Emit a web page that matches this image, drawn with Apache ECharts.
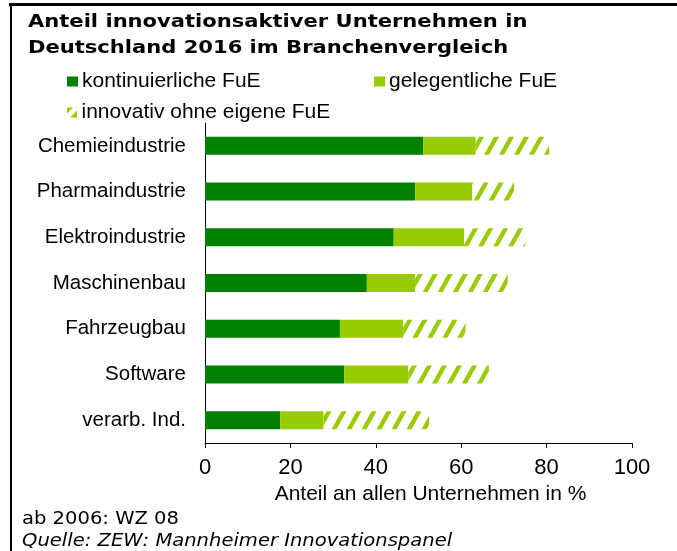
<!DOCTYPE html>
<html>
<head>
<meta charset="utf-8">
<script src="https://cdn.jsdelivr.net/npm/echarts@6/dist/echarts.min.js"></script>
<style>
  html, body { margin: 0; padding: 0; background: #fff; }
  #chart { width: 677px; height: 551px; }
</style>
</head>
<body>
<div id="chart"></div>
<script>
// Branchen
let categories = ['Chemieindustrie', 'Pharmaindustrie', 'Elektroindustrie', 'Maschinenbau',
    'Fahrzeugbau', 'Software', 'verarb. Ind.'];
// Anteile in %
let kontinuierlich = [51.1, 49.2, 44.2, 37.9, 31.6, 32.6, 17.6];
let gelegentlich = [12.3, 13.4, 16.5, 11.3, 14.8, 15.0, 10.2];
let ohneFuE = [17.2, 9.8, 14.3, 21.7, 14.6, 18.9, 24.7];
let seriesNames = ['kontinuierliche FuE', 'gelegentliche FuE', 'innovativ ohne eigene FuE'];
let xTicks = [0, 20, 40, 60, 80, 100];

let darkGreen = '#008000';
let lightGreen = '#99CC00';

// Schraffur fuer "innovativ ohne eigene FuE"
function makeHatch() {
    let w = 15, h = 27;
    let c = document.createElement('canvas');
    c.width = w;
    c.height = h;
    let ctx = c.getContext('2d');
    ctx.fillStyle = '#fff';
    ctx.fillRect(0, 0, w, h);
    ctx.fillStyle = lightGreen;
    for (let k = -1; k <= 1; k++) {
        let x0 = k * w;
        ctx.beginPath();
        ctx.moveTo(x0, h);
        ctx.lineTo(x0 + w, 0);
        ctx.lineTo(x0 + w + 5, 0);
        ctx.lineTo(x0 + 5, h);
        ctx.closePath();
        ctx.fill();
    }
    return c;
}
let hatch = { image: makeHatch(), repeat: 'repeat' };

let labelFont = 'Liberation Sans, Arial, sans-serif';

let chart = echarts.init(document.getElementById('chart'));
let option = {
    animation: false,
    legend: [
        { data: [seriesNames[0]], left: 62, top: 66 },
        { data: [seriesNames[1]], left: 369, top: 66 },
        {
            data: [{
                name: seriesNames[2],
                // kleines Symbol mit weissem Schraegstrich
                icon: 'path://M0,0L6,0L0,6ZM10,3L10,10L3,10Z',
                itemStyle: { color: lightGreen }
            }],
            left: 62, top: 97
        }
    ].map(function (l) {
        if (typeof l.data[0] === 'string') {
            l.icon = 'rect';
        }
        l.itemWidth = 11;
        l.itemHeight = 10;
        l.itemGap = 0;
        l.selectedMode = false;
        l.textStyle = { fontFamily: labelFont, fontSize: 21, color: '#000', padding: [0, 0, 0, -1] };
        return l;
    }),
    grid: {
        left: 205,
        right: 45,
        top: 123,
        bottom: 108,
        containLabel: false
    },
    xAxis: {
        type: 'value',
        min: 0,
        max: 100,
        interval: 20,
        name: 'Anteil an allen Unternehmen in %',
        nameLocation: 'middle',
        nameGap: 31,
        nameTextStyle: { fontFamily: labelFont, fontSize: 21, color: '#000', padding: [0, 0, 0, 24] },
        axisLine: { show: true, lineStyle: { color: '#000', width: 1 } },
        axisTick: { show: true, length: 5, lineStyle: { color: '#000' } },
        axisLabel: { fontFamily: labelFont, fontSize: 22, color: '#000', margin: 14 },
        splitLine: { show: false }
    },
    yAxis: {
        type: 'category',
        data: categories,
        inverse: true,
        axisLine: { show: true, lineStyle: { color: '#000', width: 1 } },
        axisTick: { show: false },
        axisLabel: { fontFamily: labelFont, fontSize: 20.5, color: '#000', margin: 19 }
    },
    series: [
        { name: seriesNames[0], type: 'bar', stack: 'a', data: kontinuierlich, itemStyle: { color: darkGreen } },
        { name: seriesNames[1], type: 'bar', stack: 'a', data: gelegentlich, itemStyle: { color: lightGreen } },
        { name: seriesNames[2], type: 'bar', stack: 'a', data: ohneFuE, itemStyle: { color: hatch } }
    ].map(function (s) {
        s.barWidth = 18;
        s.emphasis = { disabled: true };
        return s;
    }),
    graphic: [
        // Rahmen oben und links
        { type: 'line', shape: { x1: 9, y1: 4.5, x2: 677, y2: 4.5 }, style: { stroke: '#000', lineWidth: 3 } },
        { type: 'line', shape: { x1: 11, y1: 3, x2: 11, y2: 551 }, style: { stroke: '#000', lineWidth: 2 } },
        // Titel (leicht in die Breite gezogen wie im Original)
        {
            type: 'text', x: 28, y: 9, scaleX: 1.17,
            style: {
                text: 'Anteil innovationsaktiver Unternehmen in\nDeutschland 2016 im Branchenvergleich',
                font: 'bold 18px DejaVu Sans', lineHeight: 26, fill: '#000'
            }
        },
        // Fussnoten
        {
            type: 'text', x: 22, y: 511, scaleX: 1.15,
            style: { text: 'ab 2006: WZ 08', font: '17px DejaVu Sans', fill: '#000' }
        },
        {
            type: 'text', x: 22, y: 533, scaleX: 1.15,
            style: { text: 'Quelle: ZEW: Mannheimer Innovationspanel', font: 'italic 17px DejaVu Sans', fill: '#000' }
        }
    ]
};
chart.setOption(option);
</script>
</body>
</html>
